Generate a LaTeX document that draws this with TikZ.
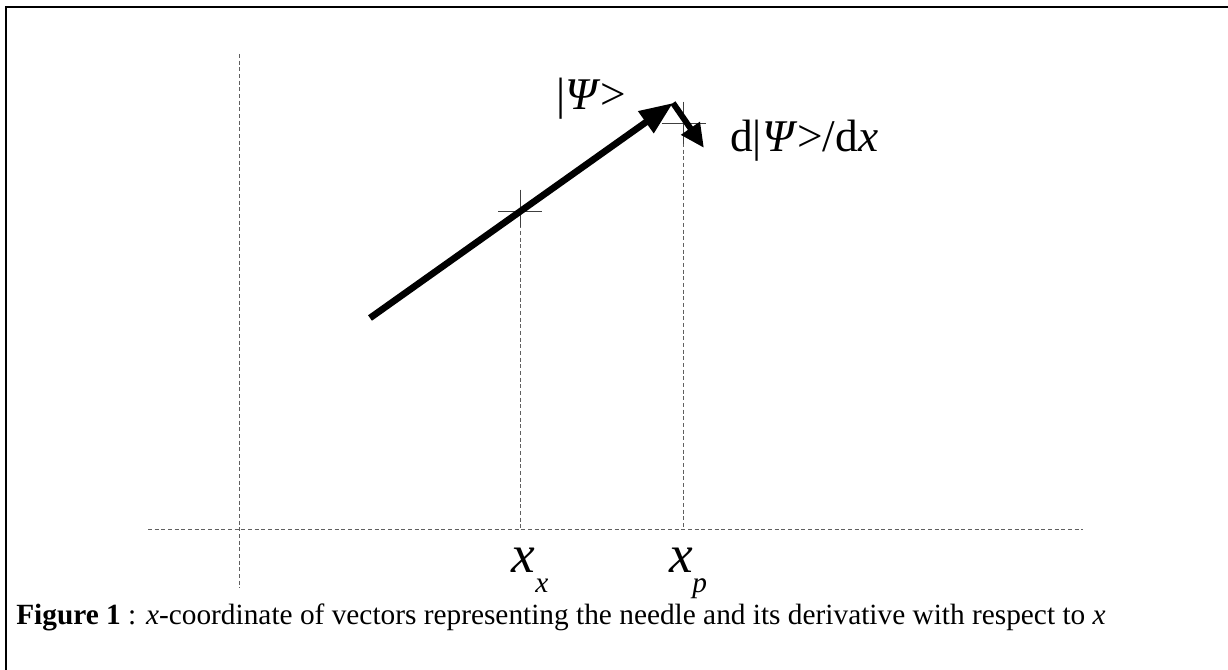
\documentclass[tikz,border=0pt]{standalone}
\usepackage{fontspec}
\setmainfont{Liberation Serif}
\usetikzlibrary{positioning, arrows.meta}

\begin{document}
\begin{tikzpicture}[x=0.75pt, y=-0.75pt,
    guide/.style={gray!75!black, line width=0.7pt, dash pattern=on 3pt off 2pt},
    cross/.style={black!75, line width=0.6pt},
    vec/.style={line width=5pt, -{Triangle[length=25pt, width=19pt]}},
    dvec/.style={line width=4.5pt, -{Triangle[length=18pt, width=16pt]}},
    lbl/.style={inner sep=0pt, anchor=base west, font=\fontsize{34}{39}\selectfont},
    bigx/.style={inner sep=0pt, anchor=base west, font=\fontsize{40}{46}\selectfont\itshape},
    subx/.style={inner sep=0pt, anchor=base west, font=\fontsize{22}{26}\selectfont\itshape}]
  \useasboundingbox (0,0) rectangle (1228,670);
  % frame
  \draw[line width=1.5pt] (6,670) -- (6,7) -- (1228,7);
  % points
  \coordinate (tail) at (370,318);
  \coordinate (psi) at (673,103);
  \coordinate (dpsi) at (704,148);
  \coordinate (cx) at (520,211);
  \coordinate (cp) at (683,123);
  \coordinate (ax) at (520,529);
  \coordinate (ap) at (683,529);
  % guides
  \draw[guide] (239,54) -- (239,588);
  \draw[guide] (148,529) -- (1083,529);
  \draw[guide] (cx) -- (ax);
  \draw[guide] (cp) -- (ap);
  % crosses
  \draw[cross] ([xshift=-16.5pt]cx) -- ([xshift=16.5pt]cx);
  \draw[cross] ([yshift=16pt]cx) -- ([yshift=-12pt]cx);
  \draw[cross] ([xshift=-16pt]cp) -- ([xshift=17pt]cp);
  \draw[cross] ([yshift=16pt]cp) -- ([yshift=-16pt]cp);
  % vectors
  \draw[vec] (tail) -- (psi);
  \draw[dvec] (psi) -- (dpsi);
  % labels
  \node[lbl] (ket) at (556,110) {|\textit{Ψ}>};
  \node[lbl] (dket) at (730,152) {d|\textit{Ψ}>/d\textit{x}};
  \node[bigx] (xx) at (511,572) {x};
  \node[subx] (xxs) at (535,592) {x};
  \node[bigx] (xp) at (669,572) {x};
  \node[subx] (xps) at (692,592) {p};
  \node[inner sep=0pt, anchor=base west, font=\fontsize{22}{26}\selectfont] (caption) at (16,624)
    {\textbf{Figure 1} : \textit{x}-coordinate of vectors representing the needle and its derivative with respect to \textit{x}};
\end{tikzpicture}
\end{document}
